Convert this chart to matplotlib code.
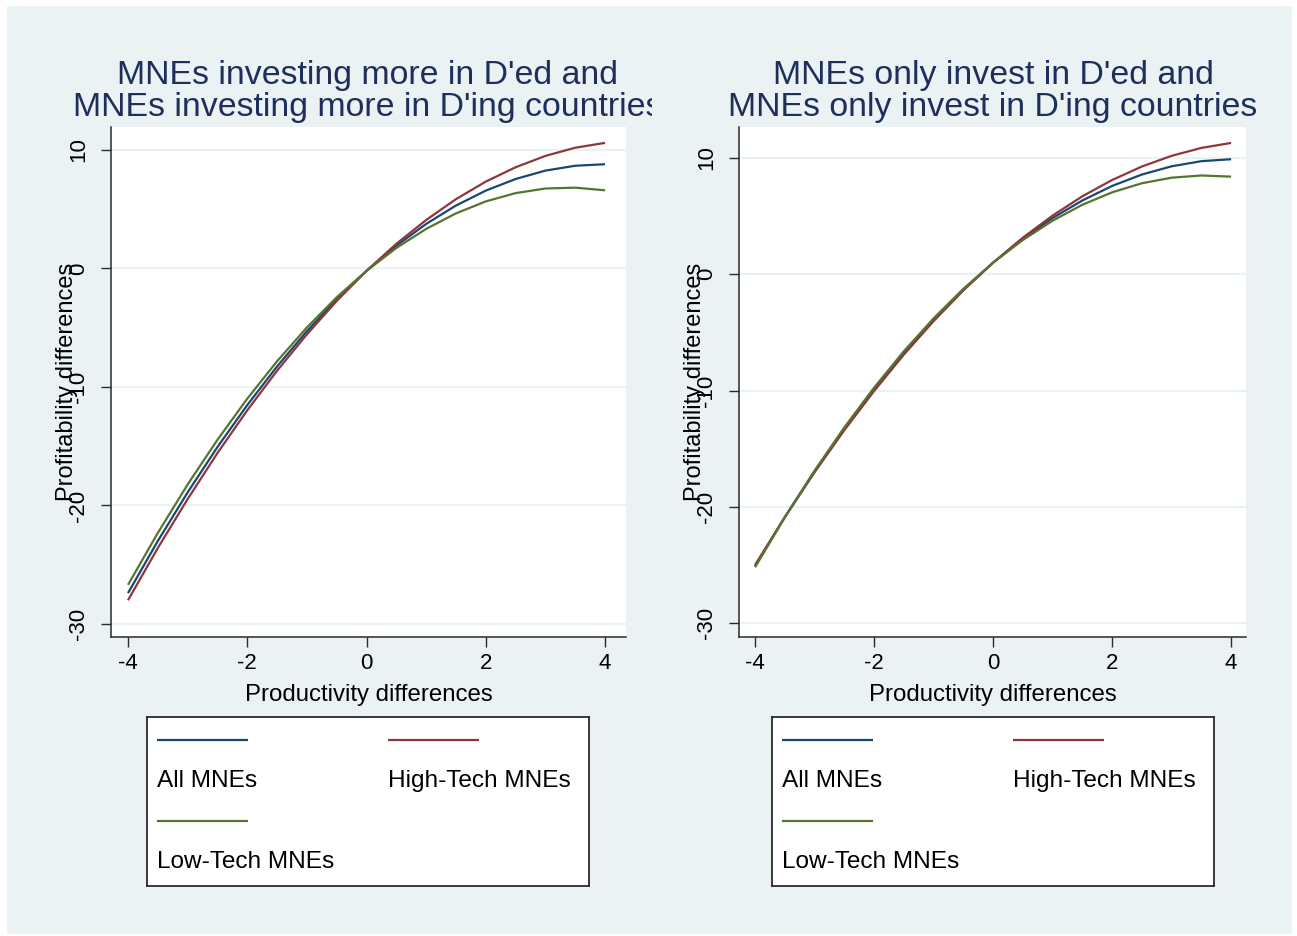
import matplotlib
matplotlib.use("Agg")
import matplotlib.pyplot as plt
from matplotlib.patches import Rectangle
from matplotlib.transforms import Bbox, TransformedBbox

plt.rcParams['font.family'] = ['Liberation Sans', 'DejaVu Sans']
plt.rcParams['axes.unicode_minus'] = False

# productivity differences (x) and fitted profitability differences
x = [-4, -3.5, -3, -2.5, -2, -1.5, -1, -0.5, 0, 0.5, 1, 1.5, 2, 2.5, 3, 3.5, 4]

# left panel: investing more in D'ed vs D'ing
more_all = [-27.4, -23.0, -18.9, -15.07, -11.53, -8.27, -5.29, -2.60, -0.2,
            1.92, 3.76, 5.31, 6.57, 7.55, 8.26, 8.67, 8.80]
more_high = [-28.0, -23.59, -19.46, -15.58, -11.97, -8.63, -5.56, -2.74, -0.2,
             2.08, 4.09, 5.85, 7.33, 8.54, 9.50, 10.19, 10.6]
more_low = [-26.7, -22.32, -18.23, -14.46, -10.99, -7.83, -4.98, -2.43, -0.2,
            1.73, 3.34, 4.65, 5.66, 6.36, 6.75, 6.82, 6.6]

# right panel: only invest in D'ed vs D'ing
only_all = [-25.1, -20.89, -16.96, -13.30, -9.90, -6.77, -3.91, -1.32, 1.0,
            3.06, 4.84, 6.35, 7.60, 8.58, 9.29, 9.73, 9.9]
only_high = [-25.0, -20.89, -17.03, -13.41, -10.04, -6.91, -4.03, -1.39, 1.0,
             3.15, 5.05, 6.71, 8.11, 9.27, 10.19, 10.87, 11.3]
only_low = [-25.2, -20.9, -16.89, -13.17, -9.75, -6.62, -3.79, -1.25, 1.0,
            2.95, 4.61, 5.98, 7.05, 7.83, 8.31, 8.50, 8.4]

labels = ["All MNEs", "High-Tech MNEs", "Low-Tech MNEs"]
colors = ["#1a476f", "#90353b", "#55752f"]
xticks = [-4, -2, 0, 2, 4]
yticks = [-30, -20, -10, 0, 10]

titles = [["MNEs investing more in D'ed and", "MNEs investing more in D'ing countries"],
          ["MNEs only invest in D'ed and", "MNEs only invest in D'ing countries"]]

W, H = 1297, 936
bg = "#eaf2f3"
title_col = "#1e2f5c"
axis_col = "#2a2a2a"

fig = plt.figure(figsize=(W / 100, H / 100), dpi=100, facecolor="white")
fig.patches.append(Rectangle((7 / W, 1 - 934 / H), 1285 / W, 928 / H,
                             transform=fig.transFigure, facecolor=bg,
                             edgecolor="none", zorder=-10))


def px(l, t, r, b):
    return [l / W, 1 - b / H, (r - l) / W, (b - t) / H]


panels = [
    dict(box=px(111, 127, 626, 637), xlim=(-4.285, 4.352), ylim=(-31.1, 11.94),
         series=[more_all, more_high, more_low], cx=368, clip=(7, 652),
         leg=(147, 717, 589, 886)),
    dict(box=px(739, 127, 1246, 637), xlim=(-4.27, 4.25), ylim=(-31.2, 12.67),
         series=[only_all, only_high, only_low], cx=993, clip=(652, 1292),
         leg=(772, 717, 1214, 886)),
]

for p, ttl in zip(panels, titles):
    ax = fig.add_axes(p["box"])
    ax.set_facecolor("white")
    for ys, c in zip(p["series"], colors):
        ax.plot(x, ys, color=c, lw=1.6, solid_capstyle="butt")
    ax.set_xlim(*p["xlim"])
    ax.set_ylim(*p["ylim"])
    ax.set_xticks(xticks)
    ax.set_yticks(yticks)
    ax.yaxis.grid(True, color=bg, lw=1.6)
    ax.set_axisbelow(True)
    for s in ["top", "right"]:
        ax.spines[s].set_visible(False)
    for s in ["left", "bottom"]:
        ax.spines[s].set_color(axis_col)
        ax.spines[s].set_linewidth(1.1)
    ax.tick_params(axis="both", direction="out", length=7.5, width=1.0,
                   color=axis_col, labelsize=16)
    ax.tick_params(axis="y", pad=8)
    ax.tick_params(axis="x", pad=4)
    for lab in ax.get_yticklabels():
        lab.set_rotation(90)
        lab.set_va("center")
    ax.set_xlabel("Productivity differences", fontsize=17.3, labelpad=7)
    ax.text(-44 / (p["box"][2] * W), 0.5, "Profitability differences",
            transform=ax.transAxes, rotation=90, ha="center", va="center",
            fontsize=17)

    # two-line title, clipped to the panel's own region like the original
    clipbox = TransformedBbox(Bbox([[p["clip"][0] / W, 0], [p["clip"][1] / W, 1]]),
                              fig.transFigure)
    for line, yb in zip(ttl, [84, 116]):
        t = fig.text(p["cx"] / W, 1 - yb / H, line, ha="center", va="baseline",
                     fontsize=24.4, color=title_col)
        t.set_clip_on(True)
        t.set_clip_box(clipbox)

    # stacked legend (key above label, two columns)
    l, t0, r, b = p["leg"]
    lg = fig.add_axes(px(l, t0, r, b))
    lg.set_xlim(0, r - l)
    lg.set_ylim(b - t0, 0)
    lg.set_xticks([])
    lg.set_yticks([])
    lg.set_facecolor("white")
    for s in lg.spines.values():
        s.set_color(axis_col)
        s.set_linewidth(1.3)
    slots = [(10, 23, 64), (241, 23, 64), (10, 104, 145)]
    for (kx, ky, ty), lab, c in zip(slots, labels, colors):
        lg.plot([kx, kx + 91], [ky, ky], color=c, lw=1.6, solid_capstyle="butt")
        lg.text(kx, ty, lab, ha="left", va="center", fontsize=17.6, color="black")

fig.savefig("out.png", dpi=100, facecolor="white")
